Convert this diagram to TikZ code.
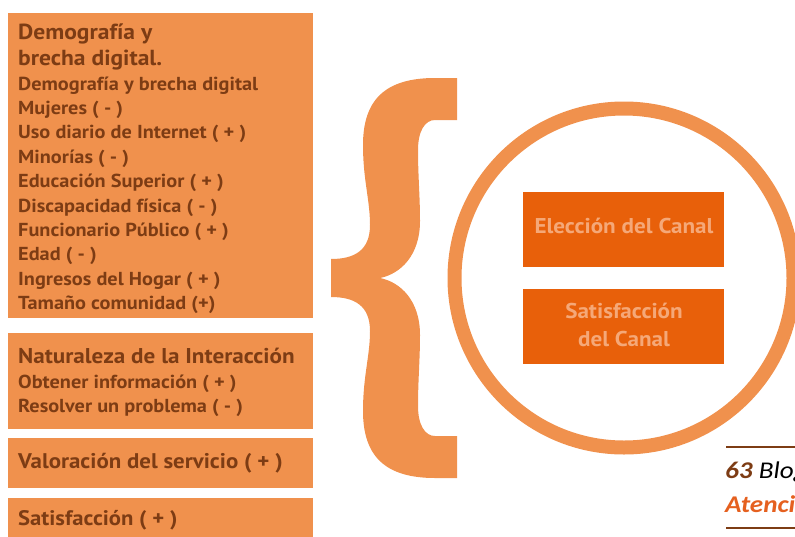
\documentclass[tikz,border=0pt]{standalone}
\usepackage{fontspec}
\setmainfont{PT Sans}[FakeStretch=1.08]
\newfontfamily\calib{Carlito}[FakeStretch=1.13]
\definecolor{lightor}{HTML}{F0914D}
\definecolor{darkor}{HTML}{E8600A}
\definecolor{brownt}{HTML}{7D3C14}
\definecolor{paleor}{HTML}{F5A878}
\definecolor{redor}{HTML}{E5601F}
\begin{document}
\begin{tikzpicture}[x=1pt,y=-1pt,
  leftbox/.style={fill=lightor,draw=none,anchor=north west,inner sep=0,minimum width=305pt},
  innerbox/.style={fill=darkor,draw=none,anchor=north west,inner sep=0,minimum width=201pt,minimum height=75pt},
  headtxt/.style={anchor=base west,inner sep=0,text=brownt,font=\bfseries\fontsize{21.8}{26}\selectfont},
  itemtxt/.style={anchor=base west,inner sep=0,text=brownt,font=\bfseries\fontsize{18.8}{24}\selectfont},
  boxtxt/.style={anchor=base,inner sep=0,text=paleor,font=\bfseries\fontsize{21.4}{28}\selectfont}]
\useasboundingbox (0,0) rectangle (795,536);
\begin{scope}
\clip (0,0) rectangle (795,536);
% left boxes
\node[leftbox,minimum height=305pt] (b1) at (8,13) {};
\node[leftbox,minimum height=96pt] (b2) at (8,333) {};
\node[leftbox,minimum height=50pt] (b3) at (8,438) {};
\node[leftbox,minimum height=50pt] (b4) at (8,498) {};
\node[headtxt] (h1a) at (18,39) {Demografía y};
\node[headtxt] (h1b) at (18,65) {brecha digital.};
\foreach \t [count=\i from 0] in {Demografía y brecha digital,Mujeres ( - ),Uso diario de Internet ( + ),Minorías ( - ),Educación Superior ( + ),Discapacidad física ( - ),Funcionario Público ( + ),Edad ( - ),Ingresos del Hogar ( + ),Tamaño comunidad (+)}
  \node[itemtxt] (l1-\i) at (18,90+24.4*\i) {\t};
\node[headtxt,font=\bfseries\fontsize{21.4}{24}\selectfont] (h2) at (18,363) {Naturaleza de la Interacción};
\node[itemtxt] (l2a) at (18,388) {Obtener información ( + )};
\node[itemtxt] (l2b) at (18,412) {Resolver un problema ( - )};
\node[headtxt,font=\bfseries\fontsize{21.2}{24}\selectfont] (h3) at (18,468) {Valoración del servicio ( + )};
\node[headtxt,font=\bfseries\fontsize{21}{24}\selectfont] (h4) at (18,525) {Satisfacción ( + )};
% brace
\fill[lightor] (457,78) -- (435,78) .. controls (385,78) and (363,100) .. (363,145)
  .. controls (363,180) and (370,200) .. (370,225)
  .. controls (370,250) and (355,259) .. (331,259) -- (331,297)
  .. controls (355,297) and (370,306) .. (370,331)
  .. controls (370,356) and (363,376) .. (363,411)
  .. controls (363,456) and (385,478) .. (435,478) -- (457,478) -- (457,436) -- (435,436)
  .. controls (425,436) and (418,425) .. (418,406)
  .. controls (418,380) and (420,360) .. (420,335)
  .. controls (420,300) and (400,282) .. (380,278)
  .. controls (400,274) and (420,256) .. (420,221)
  .. controls (420,196) and (418,176) .. (418,150)
  .. controls (418,131) and (425,120) .. (435,120) -- (457,120) -- cycle;
% circle
\node[circle,draw=lightor,line width=14pt,minimum size=339pt,inner sep=0] (circ) at (624,278) {};
\node[innerbox] (e1) at (523,192) {};
\node[innerbox] (e2) at (523,289) {};
\node[boxtxt] (t1) at (624,233) {Elección del Canal};
\node[boxtxt] (t2a) at (624,318) {Satisfacción};
\node[boxtxt] (t2b) at (624,346) {del Canal};
% footer
\coordinate (fa) at (726,447);
\coordinate (fb) at (800,447);
\coordinate (fc) at (726,528);
\coordinate (fd) at (800,528);
\draw[brownt,line width=1.8pt] (fa) -- (fb);
\draw[brownt,line width=1.8pt] (fc) -- (fd);
\node[anchor=base west,inner sep=0,font=\calib\fontsize{24}{28}\selectfont] (f1) at (725,478) {\textcolor{brownt}{\bfseries\itshape 63} \itshape Blog};
\node[anchor=base west,inner sep=0,text=redor,font=\calib\bfseries\itshape\fontsize{24}{28}\selectfont] (f2) at (725,512) {Atención};
\end{scope}
\end{tikzpicture}
\end{document}
